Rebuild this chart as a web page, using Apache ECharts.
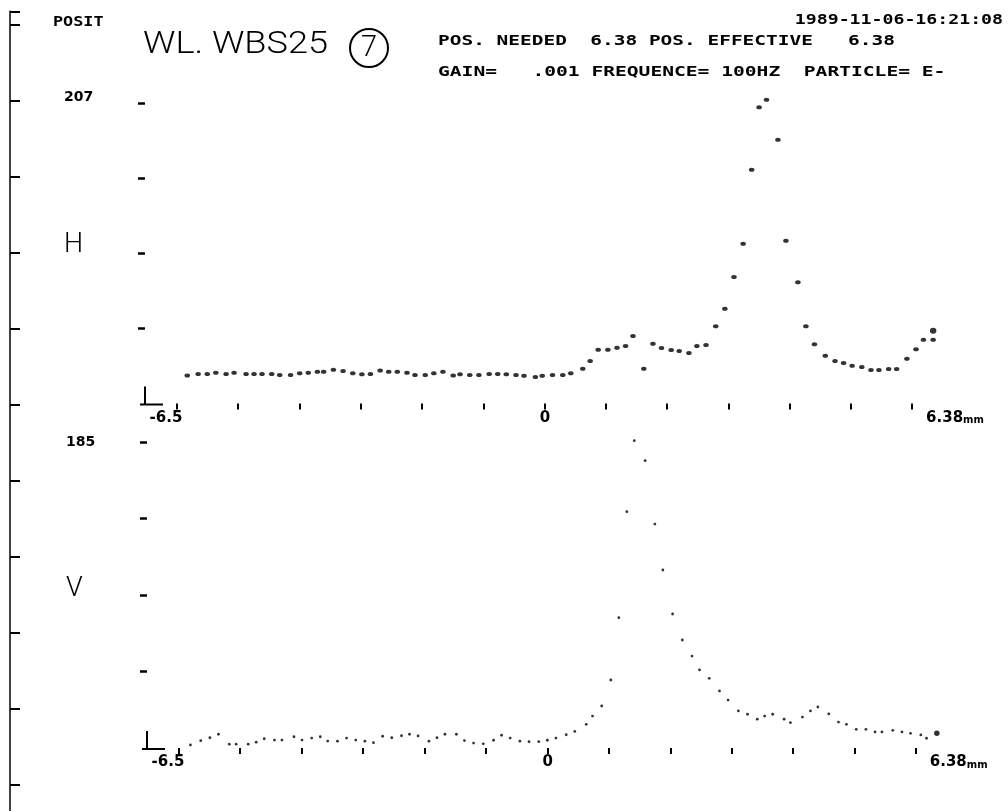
<!DOCTYPE html>
<html><head><meta charset="utf-8">
<script src="https://cdn.jsdelivr.net/npm/echarts@6/dist/echarts.min.js"></script>
<style>html,body{margin:0;padding:0;background:#fff}#c{width:1008px;height:811px}</style>
</head><body><div id="c"></div>
<script>
// ---- data ----
// H profile: position (mm) and signal
const hX = [-6.32,-6.13,-5.97,-5.82,-5.64,-5.50,-5.29,-5.15,-5.01,-4.84,
  -4.70,-4.51,-4.35,-4.20,-4.04,-3.93,-3.76,-3.59,-3.42,-3.26,
  -3.11,-2.94,-2.79,-2.64,-2.47,-2.33,-2.15,-2.00,-1.84,-1.66,
  -1.54,-1.37,-1.21,-1.03,-0.88,-0.73,-0.56,-0.42,-0.22,-0.10,
  0.08,0.26,0.40,0.61,0.74,0.88,1.05,1.21,1.36,1.49,
  1.68,1.84,1.99,2.16,2.30,2.47,2.61,2.77,2.94,3.10,
  3.26,3.42,3.57,3.70,3.83,4.03,4.17,4.38,4.52,4.67,
  4.86,5.03,5.18,5.33,5.50,5.66,5.80,5.97,6.11,6.29,
  6.45,6.58,6.75,6.75];
const hY = [19.3,20.3,20.3,21.2,20.3,21.2,20.3,20.3,20.3,20.3,
  19.6,19.6,20.8,21.2,21.9,21.9,23.3,22.4,20.8,20.2,
  20.3,22.7,21.9,21.9,21.2,19.6,19.6,20.8,21.9,19.3,
  20.1,19.6,19.6,20.3,20.3,20.1,19.6,19.2,18.3,19.2,
  19.6,19.6,20.8,24.0,29.3,37.1,37.1,38.4,39.6,46.5,
  24.0,41.2,38.2,36.9,36.2,34.8,39.6,40.3,53.2,65.3,
  87.1,110.1,161.1,204.0,209.3,181.7,112.1,83.5,53.2,40.8,
  32.9,29.3,27.9,26.0,25.1,23.1,23.1,23.8,23.8,30.9,
  37.3,43.9,43.9,50.1];
// V profile
const vX = [-6.30,-6.12,-5.96,-5.81,-5.62,-5.50,-5.29,-5.15,-5.01,-4.83,
  -4.70,-4.49,-4.35,-4.18,-4.03,-3.90,-3.73,-3.57,-3.41,-3.25,
  -3.10,-2.94,-2.78,-2.61,-2.47,-2.32,-2.13,-1.99,-1.85,-1.65,
  -1.51,-1.35,-1.18,-1.00,-0.86,-0.71,-0.54,-0.38,-0.21,-0.06,
  0.09,0.27,0.42,0.62,0.73,0.89,1.05,1.19,1.33,1.46,
  1.65,1.82,1.96,2.13,2.30,2.47,2.60,2.77,2.95,3.10,
  3.28,3.44,3.61,3.74,3.88,4.08,4.19,4.40,4.54,4.67,
  4.86,5.03,5.17,5.34,5.51,5.67,5.79,5.98,6.14,6.29,
  6.47,6.57,6.75];
const vY = [1.8,4.4,6.2,8.3,2.3,2.3,2.3,3.5,5.6,4.8,
  4.8,6.8,4.8,6.0,6.8,4.2,4.1,6.0,4.8,4.1,
  3.2,7.1,6.2,7.4,8.3,7.3,4.1,6.2,8.3,8.3,
  4.5,3.0,2.5,4.7,7.7,6.0,4.1,3.8,3.8,4.7,
  6.0,8.0,10.0,14.3,19.3,25.4,41.1,78.8,142.9,185.8,
  173.7,135.4,107.6,81.0,65.3,55.6,47.2,42.1,34.5,29.0,
  22.4,20.4,17.4,19.3,20.4,17.4,15.3,18.7,22.4,24.8,
  20.6,15.7,14.3,11.3,11.3,9.7,9.7,10.7,9.7,8.9,
  7.9,5.9,8.9];
// axes
const xTicks = [-6.5,-5.43,-4.35,-3.28,-2.21,-1.13,-0.06,1.01,2.09,3.16,4.23,5.31,6.38];
const xLabels = [-6.5, 0, 6.38];
const hYTicks = [51.75,103.5,155.25,207];
const hYLabels = [103.5, 207];
const vYTicks = [46.25,92.5,138.75,185];
const vYLabels = [92.5, 185];
const rulerTicks = [-0.18,0,1,2,3,4,5,6,7,8,9,10];
// texts
const posLabel = 'POSIT';
const titleText = 'WL. WBS25';
const circleNum = '7';
const header1 = 'POS. NEEDED  6.38 POS. EFFECTIVE   6.38';
const header2 = 'GAIN=   .001 FREQUENCE= 100HZ  PARTICLE= E-';
const dateText = '1989-11-06-16:21:08';

const chart = echarts.init(document.getElementById('c'), null, {renderer:'canvas'});
const INK = '#000';
const bold = '"DejaVu Sans", sans-serif';
const thin = 'Roboto, "Liberation Sans", sans-serif';

function xAxisCfg(gi) {
  const base = {fontFamily: bold, fontWeight: 'bold', fontSize: 15, color: INK};
  return {
    gridIndex: gi, type: 'value', min: -6.5, max: 6.8,
    axisLine: {show: false, onZero: false},
    splitLine: {show: false},
    axisTick: {show: true, customValues: xTicks, length: 6, lineStyle: {color: INK, width: 2}},
    axisLabel: {
      show: true, customValues: xLabels, margin: 7, color: INK,
      fontFamily: bold, fontWeight: 'bold', fontSize: 15,
      formatter: v => v === -6.5 ? '{a|-6.5}' : (v === 0 ? '{z|0}' : '{n|6.38}{m|mm}'),
      rich: {
        a: Object.assign({}, base, {padding: [0, 22, 0, 0]}),
        z: Object.assign({}, base, {padding: [0, 6, 0, 0]}),
        n: Object.assign({}, base, {padding: [0, 0, 0, 86]}),
        m: {fontFamily: bold, fontWeight: 'bold', fontSize: 10, color: INK, verticalAlign: 'bottom'}
      }
    }
  };
}
function yAxisCfg(gi, max, ticks, labels, num, letter, vAlign, numLH, letterLH, letterPad) {
  return {
    gridIndex: gi, type: 'value', min: 0, max: max, offset: 32,
    axisLine: {show: false, onZero: false},
    splitLine: {show: false},
    axisTick: {show: true, customValues: ticks, length: 7, lineStyle: {color: INK, width: 2.5}},
    axisLabel: {
      show: true, customValues: labels, margin: 81, align: 'left', verticalAlign: vAlign,
      formatter: v => v === labels[1] ? '{n|' + num + '}' : '{l|' + letter + '}',
      rich: {
        n: {fontFamily: bold, fontWeight: 'bold', fontSize: 14, color: INK, lineHeight: numLH},
        l: {fontFamily: thin, fontWeight: 300, fontSize: 27, color: INK, lineHeight: letterLH, padding: letterPad}
      }
    }
  };
}

const option = {
  animation: false,
  backgroundColor: '#fff',
  grid: [
    {left: 177, right: 72, top: 95.74, height: 307.76},
    {left: 179, right: 68.3, top: 433.73, height: 314.27},
    {left: 10, width: 2, top: 11.3, height: 799.5}
  ],
  xAxis: [xAxisCfg(0), xAxisCfg(1), {gridIndex: 2, type: 'value', show: false}],
  yAxis: [
    yAxisCfg(0, 212, hYTicks, hYLabels, '207', 'H', 'bottom', 11, 15, [0, 0, 0, 0]),
    yAxisCfg(1, 190, vYTicks, vYLabels, '185', 'V', 'middle', 16, 27, [0, 0, 12, 0]),
    {gridIndex: 2, type: 'value', min: -0.18, max: 10.34, inverse: true,
     axisLine: {show: true, onZero: false, lineStyle: {color: INK, width: 1.5}},
     axisTick: {show: true, inside: true, customValues: rulerTicks, length: 10, lineStyle: {color: INK, width: 2}},
     axisLabel: {show: false}, splitLine: {show: false}}
  ],
  series: [
    {type: 'scatter', name: 'H', xAxisIndex: 0, yAxisIndex: 0, silent: true,
     data: hX.map((x, i) => [x, hY[i]]),
     symbol: 'circle',
     symbolSize: (v, p) => p.dataIndex === hX.length - 1 ? [6.5, 6] : [5.5, 4],
     itemStyle: {color: INK}},
    {type: 'scatter', name: 'V', xAxisIndex: 1, yAxisIndex: 1, silent: true,
     data: vX.map((x, i) => [x, vY[i]]),
     symbol: 'circle',
     symbolSize: (v, p) => p.dataIndex === vX.length - 1 ? 5.5 : 2.8,
     itemStyle: {color: INK}}
  ]
};
chart.setOption(option);

function corner(gi) {
  const p = chart.convertToPixel({gridIndex: gi}, [-6.5, 0]);
  const ax = p[0] - 32, y0 = p[1] + 1;
  return [
    {type: 'line', shape: {x1: ax, y1: y0 - 18, x2: ax, y2: y0}, style: {stroke: INK, lineWidth: 2}},
    {type: 'line', shape: {x1: ax - 5, y1: y0, x2: ax + 18, y2: y0}, style: {stroke: INK, lineWidth: 2}}
  ];
}
const mono = 'bold 14px "DejaVu Sans Mono", monospace';
function txt(text, x, y, sx, align, font) {
  return {type: 'text', x: x, y: y, scaleX: sx, silent: true,
    style: {text: text, fill: INK, font: font || mono, align: align || 'left', verticalAlign: 'middle'}};
}
chart.setOption({
  graphic: [
    txt(posLabel, 53, 22, 1.2),
    txt(titleText, 143, 45, 1.13, 'left', '300 32px ' + thin),
    {type: 'circle', shape: {cx: 369, cy: 48, r: 19}, style: {fill: 'none', stroke: INK, lineWidth: 2}, silent: true},
    txt(circleNum, 369, 49, 1.0, 'center', '300 29px ' + thin),
    txt(header1, 438, 41, 1.39),
    txt(header2, 438, 72, 1.4),
    txt(dateText, 1003, 20, 1.3, 'right'),
    ...corner(0), ...corner(1)
  ]
});
</script></body></html>
